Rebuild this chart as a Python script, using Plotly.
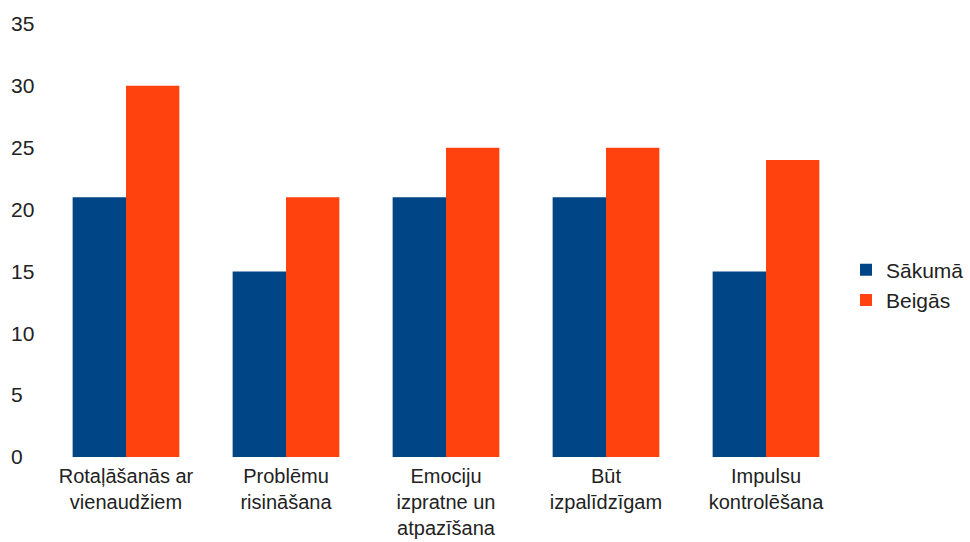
import plotly.graph_objects as go

categories = ["Rotaļāšanās ar<br>vienaudžiem", "Problēmu<br>risināšana",
              "Emociju<br>izpratne un<br>atpazīšana", "Būt<br>izpalīdzīgam",
              "Impulsu<br>kontrolēšana"]
sakuma = [21, 15, 21, 21, 15]
beigas = [30, 21, 25, 25, 24]
y_ticks = [0, 5, 10, 15, 20, 25, 30, 35]

W, H = 970, 542
L, R, T, B = 0, 124, 24, 85
plot_w = W - L - R
font = dict(family="Liberation Sans, Arial, sans-serif", size=21, color="#222222")
xfont = dict(family="Liberation Sans, Arial, sans-serif", size=20, color="#222222")

fig = go.Figure()
fig.add_trace(go.Bar(x=categories, y=sakuma, name="Sākumā", marker_color="#004586",
                     marker_line_width=0))
fig.add_trace(go.Bar(x=categories, y=beigas, name="Beigās", marker_color="#ff420e",
                     marker_line_width=0))

fig.update_layout(
    width=W, height=H, autosize=False,
    margin=dict(l=L, r=R, t=T, b=B, pad=0),
    paper_bgcolor="white", plot_bgcolor="white",
    font=font,
    barmode="group", bargap=0.333, bargroupgap=0,
    showlegend=True,
    legend=dict(x=1.0, y=0.397, xanchor="left", yanchor="middle",
                font=font, itemsizing="constant", tracegroupgap=0,
                bgcolor="rgba(0,0,0,0)"),
    xaxis=dict(domain=[46 / plot_w, 1], showgrid=False, showline=False, zeroline=False,
               ticks="", tickfont=xfont, automargin=False, ticklabelstandoff=5),
    yaxis=dict(range=[0, 35], tickvals=y_ticks, showgrid=False, showline=False,
               zeroline=False, ticks="", tickfont=font, automargin=False,
               anchor="free", side="right", position=10 / plot_w,
               ticklabelstandoff=0),
)

fig.write_html("out.html", config={"responsive": False, "displayModeBar": False},
               post_script="document.body.style.margin='0';document.body.style.overflow='hidden';")
